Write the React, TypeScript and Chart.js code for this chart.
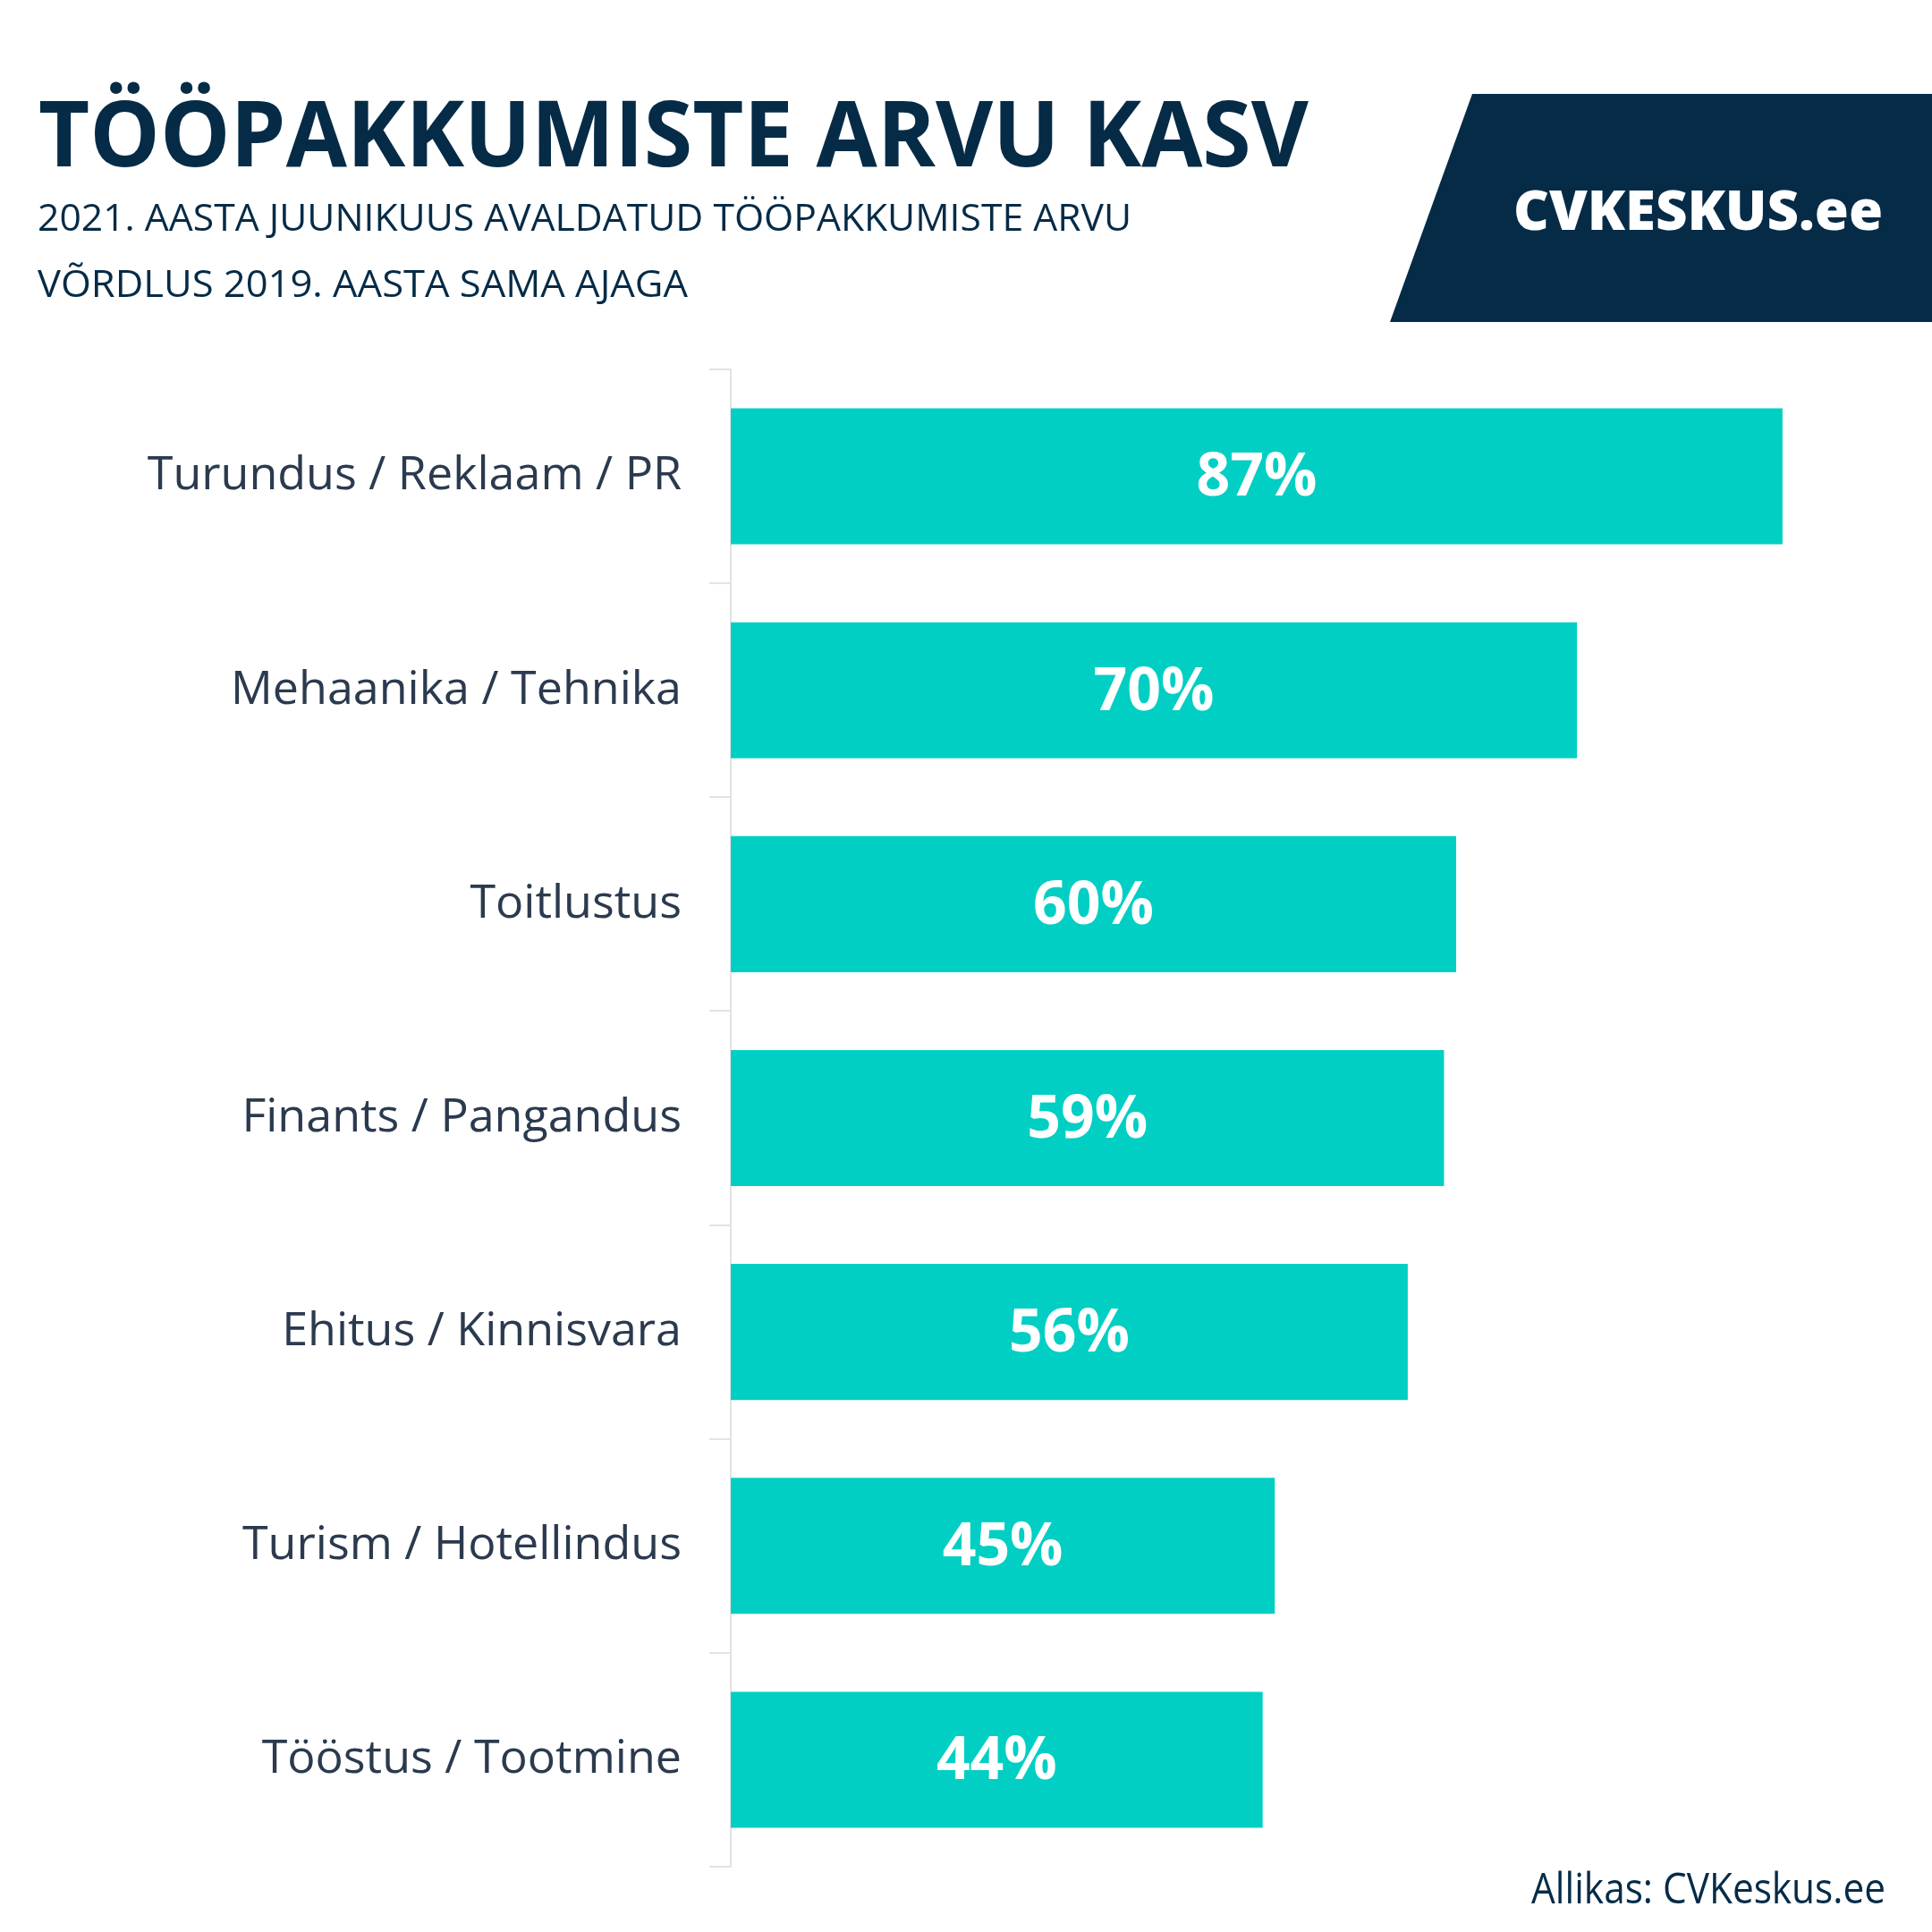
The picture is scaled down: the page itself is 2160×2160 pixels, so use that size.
import React, { useEffect, useRef } from "react";
import { Chart, registerables } from "chart.js";

Chart.register(...registerables);

const categories = [
  "Turundus / Reklaam / PR",
  "Mehaanika / Tehnika",
  "Toitlustus",
  "Finants / Pangandus",
  "Ehitus / Kinnisvara",
  "Turism / Hotellindus",
  "Tööstus / Tootmine",
];
const growthValues = [87, 70, 60, 59, 56, 45, 44];

const TITLE = "TÖÖPAKKUMISTE ARVU KASV";
const SUBTITLE_1 = "2021. AASTA JUUNIKUUS AVALDATUD TÖÖPAKKUMISTE ARVU";
const SUBTITLE_2 = "VÕRDLUS 2019. AASTA SAMA AJAGA";
const LOGO = "CVKESKUS.ee";
const SOURCE = "Allikas: CVKeskus.ee";

const NAVY = "#052b47";
const LABEL = "#2b3a4e";
const BAR = "#02cfc4";
const FAMILY = "'Open Sans', 'Noto Sans', sans-serif";

let measureCtx: CanvasRenderingContext2D | null = null;
function measure(text: string, font: string) {
  if (!measureCtx) measureCtx = document.createElement("canvas").getContext("2d");
  const ctx = measureCtx!;
  ctx.font = font;
  const m = ctx.measureText(text);
  return {
    w: m.width,
    asc: (m as any).fontBoundingBoxAscent ?? 0,
    desc: (m as any).fontBoundingBoxDescent ?? 0,
  };
}

type FitProps = {
  text: string;
  size: number;
  weight: number;
  color: string;
  x: number;
  baseline: number;
  width: number;
  align?: "left" | "right";
};

function FitText({ text, size, weight, color, x, baseline, width, align = "left" }: FitProps) {
  const font = `${weight} ${size}px ${FAMILY}`;
  const m = measure(text, font);
  const scale = m.w > 0 ? width / m.w : 1;
  const top = baseline - (size - (m.asc + m.desc)) / 2 - m.asc;
  const left = align === "left" ? x : x - width;
  return (
    <div
      style={{
        position: "absolute",
        left,
        top,
        font,
        lineHeight: `${size}px`,
        whiteSpace: "nowrap",
        color,
        transform: `scaleX(${scale})`,
        transformOrigin: "left top",
      }}
    >
      {text}
    </div>
  );
}

const valueLabelPlugin = {
  id: "valueLabels",
  afterDatasetsDraw(chart: any) {
    const ctx = chart.ctx;
    const meta = chart.getDatasetMeta(0);
    ctx.save();
    ctx.fillStyle = "#ffffff";
    ctx.font = `700 66px ${FAMILY}`;
    ctx.textAlign = "center";
    ctx.textBaseline = "middle";
    meta.data.forEach((bar: any, i: number) => {
      const v = chart.data.datasets[0].data[i];
      const cx = (bar.x + bar.base) / 2;
      ctx.fillText(`${v}%`, cx, bar.y + 3);
    });
    ctx.restore();
  },
};

function BarChart() {
  const ref = useRef<HTMLCanvasElement>(null);
  useEffect(() => {
    if (!ref.current) return;
    const chart = new Chart(ref.current, {
      type: "bar",
      data: {
        labels: categories,
        datasets: [
          {
            data: growthValues,
            backgroundColor: BAR,
            borderWidth: 0,
            barPercentage: 0.636,
            categoryPercentage: 1,
          },
        ],
      },
      options: {
        indexAxis: "y",
        responsive: false,
        animation: false,
        devicePixelRatio: 1,
        layout: { padding: { top: 413, bottom: 73, right: 59, left: 0 } },
        plugins: { legend: { display: false }, tooltip: { enabled: false } },
        scales: {
          x: { display: false, min: 0, max: 95 },
          y: {
            afterFit(scale: any) {
              scale.width = 817;
            },
            grid: {
              drawOnChartArea: false,
              drawTicks: true,
              tickLength: 24,
              color: "#e3e3e3",
              lineWidth: 2,
              offset: true,
            },
            border: { display: true, color: "#e3e3e3", width: 2 },
            ticks: {
              padding: 31,
              color: LABEL,
              font: { family: FAMILY, size: 52, weight: 400 },
            },
          },
        },
      },
      plugins: [valueLabelPlugin],
    });
    return () => chart.destroy();
  }, []);
  return (
    <canvas
      ref={ref}
      width={2160}
      height={2160}
      style={{ position: "absolute", left: 0, top: 0, width: 2160, height: 2160 }}
    />
  );
}

export default function App() {
  return (
    <div
      style={{
        position: "absolute",
        left: 0,
        top: 0,
        width: 2160,
        height: 2160,
        background: "#ffffff",
        overflow: "hidden",
      }}
    >
      <div
        style={{
          position: "absolute",
          left: 1554,
          top: 105,
          width: 606,
          height: 255,
          background: NAVY,
          clipPath: "polygon(92px 0, 606px 0, 606px 255px, 0 255px)",
        }}
      />
      <BarChart />
      <FitText text={TITLE} size={102} weight={700} color={NAVY} x={43} baseline={186} width={1420} />
      <FitText text={SUBTITLE_1} size={42} weight={400} color={NAVY} x={42} baseline={258} width={1223} />
      <FitText text={SUBTITLE_2} size={42} weight={400} color={NAVY} x={42} baseline={332} width={727} />
      <FitText text={LOGO} size={62} weight={800} color="#ffffff" x={1692} baseline={257} width={413} />
      <FitText text={SOURCE} size={47} weight={400} color={NAVY} x={2108} baseline={2128} width={396} align="right" />
    </div>
  );
}
